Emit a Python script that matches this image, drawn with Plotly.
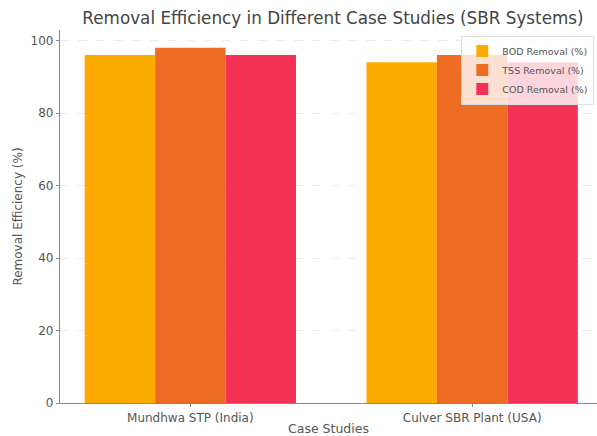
import plotly.graph_objects as go

categories = ["Mundhwa STP (India)", "Culver SBR Plant (USA)"]
series_names = ["BOD Removal (%)", "TSS Removal (%)", "COD Removal (%)"]
bod_values = [96, 94]
tss_values = [98, 96]
cod_values = [96, 94]
colors = ["#FDAA00", "#EE6B24", "#F43256"]
y_ticks = [0, 20, 40, 60, 80, 100]

fig = go.Figure()
for name, vals, col in zip(series_names, [bod_values, tss_values, cod_values], colors):
    fig.add_trace(go.Bar(x=list(range(len(categories))), y=vals, name=name,
                         marker=dict(color=col, line=dict(width=0))))

font_family = "DejaVu Sans, sans-serif"
fig.update_layout(
    width=597, height=436,
    margin=dict(l=60, r=0, t=30, b=33),
    paper_bgcolor="white", plot_bgcolor="white",
    barmode="group", bargap=0.25, bargroupgap=0,
    font=dict(family=font_family, color="#555555", size=12),
    title=dict(text="Removal Efficiency in Different Case Studies (SBR Systems)",
               x=333/597, xanchor="center", y=1-18/436, yanchor="middle",
               font=dict(size=16.8, color="#444444")),
    xaxis=dict(range=[-0.4625, 1.443], tickmode="array",
               tickvals=list(range(len(categories))), ticktext=categories,
               showline=True, linecolor="#888888", linewidth=1.2,
               ticks="outside", ticklen=3, tickcolor="#888888",
               showgrid=False, zeroline=False,
               tickfont=dict(size=12, color="#555555"),
               title=dict(text="Case Studies", font=dict(size=12.5, color="#555555"), standoff=2)),
    yaxis=dict(range=[0, 102.9], tickmode="array", tickvals=y_ticks,
               showline=True, linecolor="#888888", linewidth=1.2,
               ticks="outside", ticklen=3, tickcolor="#888888",
               showgrid=True, gridcolor="#ececec", griddash="dash", gridwidth=0.8,
               zeroline=False,
               tickfont=dict(size=12, color="#555555"),
               title=dict(text="Removal Efficiency (%)", font=dict(size=12, color="#555555"), standoff=5)),
    legend=dict(x=0.995, xanchor="right", y=0.985, yanchor="top",
                bgcolor="rgba(255,255,255,0.8)", bordercolor="#dddddd", borderwidth=1,
                font=dict(size=9.5, color="#555555"), itemwidth=30,
                tracegroupgap=0),
)

fig.write_html("out.html")
